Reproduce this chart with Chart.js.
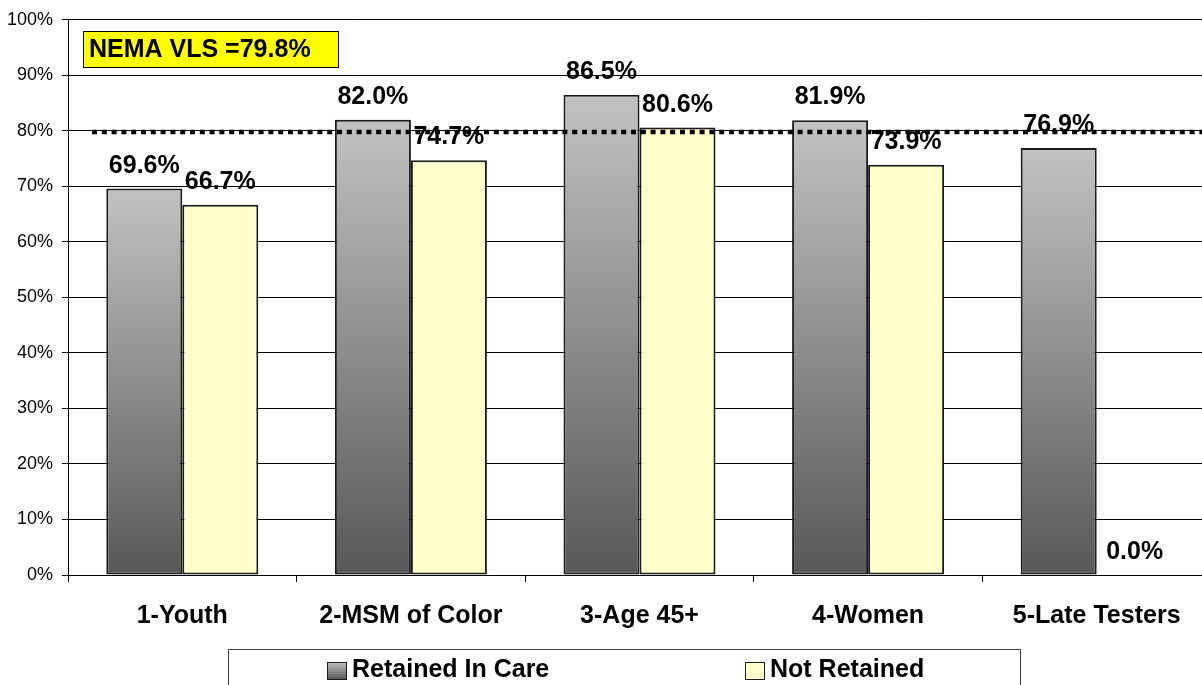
<!DOCTYPE html>
<html>
<head>
<meta charset="utf-8">
<title>Viral load suppression by priority population</title>
<script src="https://cdn.jsdelivr.net/npm/chart.js@4.4.1/dist/chart.umd.min.js"></script>
<style>
  html, body { margin: 0; padding: 0; background: #fff; overflow: hidden; }
  #chartContainer { width: 1214px; height: 685px; }
</style>
</head>
<body>
<div id="chartContainer"><canvas id="vlsChart" width="1214" height="685"></canvas></div>
<script>
// categories and series
const groups = ["1-Youth", "2-MSM of Color", "3-Age 45+", "4-Women", "5-Late Testers"];
const retainedInCare = [69.6, 82.0, 86.5, 81.9, 76.9];
const notRetained = [66.7, 74.7, 80.6, 73.9, 0.0];
const seriesNames = ["Retained In Care", "Not Retained"];
const yTicks = [0, 10, 20, 30, 40, 50, 60, 70, 80, 90, 100];

// regional benchmark
const nemaVls = 79.8;
const nemaLabel = "NEMA VLS =" + nemaVls.toFixed(1) + "%";

const FONT = "'Liberation Sans', Arial, sans-serif";
const yellowFill = "#ffffcc";
const outline = "#1c1c1c";

// grey bars fade from light at the top to dark at the base, one gradient per bar
function greyGradient(ctx, top, bottom) {
  const g = ctx.createLinearGradient(0, top, 0, bottom);
  g.addColorStop(0, "#c2c2c2");
  g.addColorStop(1, "#585858");
  return g;
}

function greyBar(context) {
  const chart = context.chart;
  const yScale = chart.scales.y;
  if (!yScale || context.raw === undefined) return "#999";
  const top = yScale.getPixelForValue(context.raw);
  const bottom = yScale.getPixelForValue(0);
  if (!isFinite(top) || !isFinite(bottom)) return "#999";
  if (bottom - top < 1) return "#585858";
  return greyGradient(chart.ctx, top, bottom);
}

const valueLabels = {
  id: "valueLabels",
  afterDatasetsDraw(chart) {
    const ctx = chart.ctx;
    ctx.save();
    ctx.font = "bold 25px " + FONT;
    ctx.fillStyle = "#000";
    ctx.textAlign = "center";
    ctx.textBaseline = "alphabetic";
    chart.data.datasets.forEach((ds, i) => {
      chart.getDatasetMeta(i).data.forEach((bar, j) => {
        ctx.fillText(ds.data[j].toFixed(1) + "%", bar.x, bar.y - 16);
      });
    });
    ctx.restore();
  }
};

// dotted benchmark line and its yellow caption box
const benchmark = {
  id: "benchmark",
  afterDraw(chart) {
    const ctx = chart.ctx;
    const y = chart.scales.y.getPixelForValue(nemaVls);
    ctx.save();
    ctx.strokeStyle = "#000";
    ctx.lineWidth = 4.5;
    ctx.setLineDash([5, 4.8]);
    ctx.beginPath();
    ctx.moveTo(92, y);
    ctx.lineTo(chart.width, y);
    ctx.stroke();
    ctx.setLineDash([]);

    ctx.fillStyle = "#ffff00";
    ctx.fillRect(83, 31, 255, 36);
    ctx.lineWidth = 1;
    ctx.strokeRect(83.5, 31.5, 255, 36);
    ctx.fillStyle = "#000";
    ctx.font = "bold 25px " + FONT;
    ctx.textAlign = "left";
    ctx.textBaseline = "middle";
    ctx.fillText(nemaLabel, 89, 50);
    ctx.restore();
  }
};

const boxLegend = {
  id: "boxLegend",
  afterDraw(chart) {
    const ctx = chart.ctx;
    ctx.save();
    ctx.strokeStyle = "#444";
    ctx.lineWidth = 1;
    ctx.strokeRect(228.5, 649.5, 792, 60);

    const items = [
      { x: 327, fill: greyGradient(ctx, 662, 679) },
      { x: 745, fill: yellowFill }
    ];
    ctx.font = "bold 25px " + FONT;
    ctx.textBaseline = "middle";
    ctx.textAlign = "left";
    items.forEach((it, i) => {
      ctx.fillStyle = it.fill;
      ctx.fillRect(it.x, 662, 19, 17);
      ctx.strokeStyle = outline;
      ctx.strokeRect(it.x + 0.5, 662.5, 19, 17);
      ctx.fillStyle = "#000";
      ctx.fillText(seriesNames[i], it.x + 25, 670);
    });
    ctx.restore();
  }
};

const chart = new Chart(document.getElementById("vlsChart"), {
  type: "bar",
  data: {
    labels: groups,
    datasets: [
      {
        label: seriesNames[0],
        data: retainedInCare,
        backgroundColor: greyBar,
        borderColor: outline,
        borderWidth: 2,
        borderSkipped: false
      },
      {
        label: seriesNames[1],
        data: notRetained,
        backgroundColor: yellowFill,
        borderColor: outline,
        borderWidth: 2,
        borderSkipped: false
      }
    ]
  },
  options: {
    responsive: false,
    animation: false,
    layout: { padding: { top: 18, right: 3, left: 0, bottom: 0 } },
    datasets: { bar: { categoryPercentage: 0.665, barPercentage: 1.0 } },
    plugins: {
      legend: { display: false },
      tooltip: { enabled: false }
    },
    scales: {
      x: {
        offset: true,
        grid: { display: true, drawOnChartArea: false, drawTicks: true, tickLength: 7, color: "#000", offset: true },
        border: { color: "#000", width: 1 },
        ticks: { color: "#000", font: { family: FONT, size: 25, weight: "bold" }, padding: 19, maxRotation: 0 },
        afterFit(scale) { scale.height = 110; }
      },
      y: {
        min: 0,
        max: 100,
        afterBuildTicks(scale) { scale.ticks = yTicks.map(v => ({ value: v })); },
        grid: { color: "#000", lineWidth: 1, tickLength: 6 },
        border: { color: "#000", width: 1 },
        ticks: {
          color: "#000",
          font: { family: FONT, size: 18 },
          padding: 9,
          callback: v => v + "%"
        },
        afterFit(scale) { scale.width = 68; }
      }
    }
  },
  plugins: [valueLabels, benchmark, boxLegend]
});
</script>
</body>
</html>
